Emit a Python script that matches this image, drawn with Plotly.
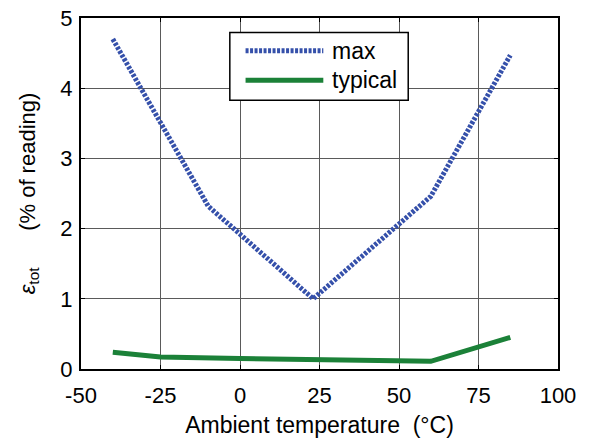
import plotly.graph_objects as go

temp_max = [-40, -10, 23, 60, 85]
eps_max = [4.70, 2.32, 1.00, 2.46, 4.47]
temp_typ = [-40, -25, 0, 25, 60, 85]
eps_typ = [0.24, 0.17, 0.15, 0.13, 0.11, 0.45]
x_ticks = [-50, -25, 0, 25, 50, 75, 100]
y_ticks = [0, 1, 2, 3, 4, 5]

FONT = "Liberation Sans, Arial, sans-serif"

fig = go.Figure()
fig.add_trace(go.Scatter(x=temp_max, y=eps_max, mode="lines", name="max",
                         line=dict(color="#3550AA", width=5, dash="3px,1.5px")))
fig.add_trace(go.Scatter(x=temp_typ, y=eps_typ, mode="lines", name="typical",
                         line=dict(color="#1B8138", width=5)))

axis_common = dict(showgrid=True, gridcolor="#5a5a5a", gridwidth=1,
                   showline=True, linecolor="black", linewidth=2, mirror="ticks",
                   ticks="inside", ticklen=4, tickcolor="black", zeroline=False,
                   ticklabeloverflow="allow", automargin=False,
                   tickfont=dict(family=FONT, size=22, color="black"))

fig.update_xaxes(range=[-50, 100], tickvals=x_ticks, ticktext=[str(v) for v in x_ticks],
                 ticklabelstandoff=6,
                 title=dict(text="Ambient temperature\u00a0\u00a0(°C)", font=dict(family=FONT, size=23, color="black"), standoff=11),
                 **axis_common)
fig.update_yaxes(range=[0, 5], tickvals=y_ticks, ticktext=[str(v) for v in y_ticks],
                 ticklabelstandoff=2,
                 title=dict(text="<i>ε</i><sub>tot</sub>\u00a0\u00a0\u00a0\u00a0\u00a0\u00a0(% of reading)", font=dict(family=FONT, size=22, color="black"), standoff=19),
                 **axis_common)

# manual legend (box, line samples, labels) in paper coordinates
fig.add_shape(type="rect", xref="paper", yref="paper", x0=0.312, x1=0.686, y0=0.766, y1=0.959,
              line=dict(color="black", width=1.5), fillcolor="white", layer="above")
fig.add_shape(type="line", xref="paper", yref="paper", x0=0.345, x1=0.508, y0=0.907, y1=0.907,
              line=dict(color="#3550AA", width=5, dash="3px,1.5px"), layer="above")
fig.add_shape(type="line", xref="paper", yref="paper", x0=0.345, x1=0.508, y0=0.823, y1=0.823,
              line=dict(color="#1B8138", width=5), layer="above")
for name, yy in [("max", 0.907), ("typical", 0.823)]:
    fig.add_annotation(xref="paper", yref="paper", x=0.522, y=yy, text=name, showarrow=False,
                       xanchor="left", yanchor="middle", font=dict(family=FONT, size=23, color="black"))

# page body adds an 8px margin, so the figure is 8px smaller on each offset side
fig.update_layout(width=582, height=430, margin=dict(l=73, r=32, t=10, b=69),
                  plot_bgcolor="white", paper_bgcolor="white", showlegend=False)

fig.write_html("out.html")
